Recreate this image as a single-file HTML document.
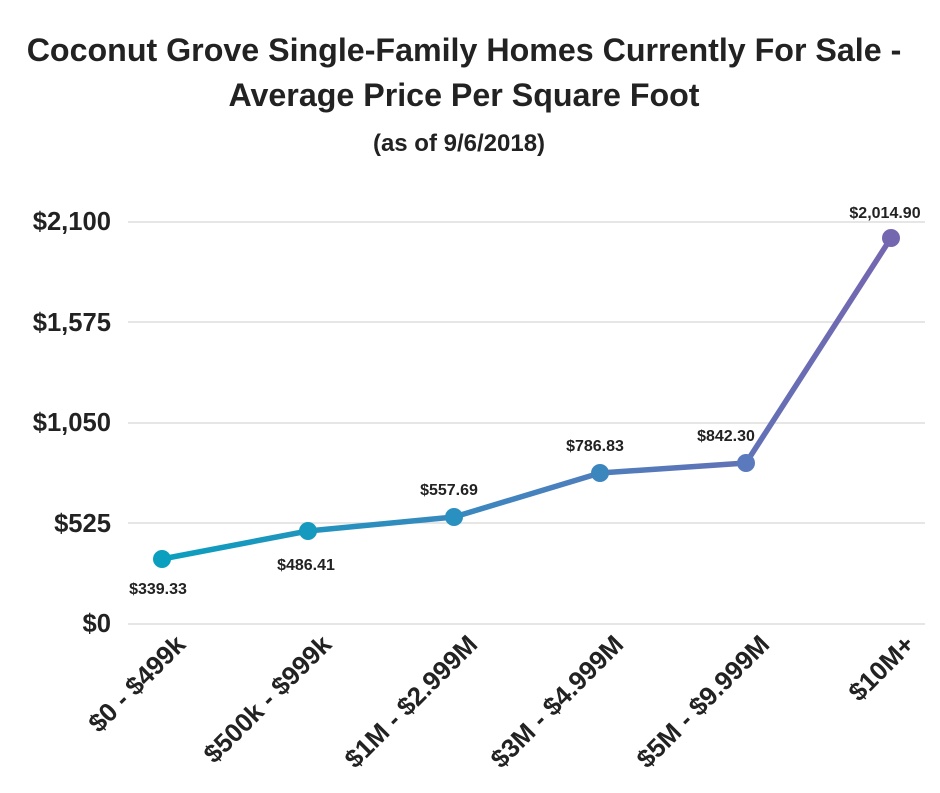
<!DOCTYPE html>
<html><head><meta charset="utf-8"><style>body{margin:0;background:#fff}</style></head>
<body>
<svg width="940" height="788" viewBox="0 0 940 788" xmlns="http://www.w3.org/2000/svg" font-family="Liberation Sans, sans-serif">
<defs><linearGradient id="g" x1="162" y1="0" x2="891" y2="0" gradientUnits="userSpaceOnUse">
<stop offset="0" stop-color="#0a9fbe"/><stop offset="0.55" stop-color="#4a80bd"/><stop offset="1" stop-color="#7566b0"/></linearGradient></defs>
<text x="464" y="61" text-anchor="middle" font-size="32.2" font-weight="bold" fill="#222">Coconut Grove Single-Family Homes Currently For Sale -</text>
<text x="464" y="106" text-anchor="middle" font-size="32.2" font-weight="bold" fill="#222">Average Price Per Square Foot</text>
<text x="459" y="151" text-anchor="middle" font-size="24" font-weight="bold" fill="#222">(as of 9/6/2018)</text>
<g stroke="#d6d6d6" stroke-width="1.3">
<line x1="128" y1="222" x2="925" y2="222"/><line x1="128" y1="322" x2="925" y2="322"/><line x1="128" y1="423" x2="925" y2="423"/><line x1="128" y1="523" x2="925" y2="523"/><line x1="128" y1="624" x2="925" y2="624"/></g>
<g font-size="25.6" font-weight="bold" fill="#222" text-anchor="end">
<text x="111" y="230">$2,100</text><text x="111" y="331">$1,575</text><text x="111" y="431">$1,050</text><text x="111" y="532">$525</text><text x="111" y="632">$0</text></g>
<polyline points="162,559 308,531 454,517 600,473 746,463 891,238" fill="none" stroke="url(#g)" stroke-width="5.5" stroke-linejoin="round"/>
<circle cx="162" cy="559" r="9" fill="#0a9fbe"/><circle cx="308" cy="531" r="9" fill="#1699be"/><circle cx="454" cy="517" r="9" fill="#2a90c0"/><circle cx="600" cy="473" r="9" fill="#3c86be"/><circle cx="746" cy="463" r="9" fill="#5a7abd"/><circle cx="891" cy="238" r="9" fill="#7566b0"/>
<g font-size="16" font-weight="bold" fill="#222" text-anchor="middle">
<text x="158" y="594">$339.33</text><text x="306" y="570">$486.41</text><text x="449" y="495">$557.69</text><text x="595" y="451">$786.83</text><text x="726" y="441">$842.30</text><text x="885" y="218">$2,014.90</text></g>
<g font-size="26" font-weight="bold" fill="#222" text-anchor="end">
<text transform="translate(187,646) rotate(-45)">$0 - $499k</text>
<text transform="translate(333,646) rotate(-45)">$500k - $999k</text>
<text transform="translate(479,646) rotate(-45)">$1M - $2.999M</text>
<text transform="translate(625,646) rotate(-45)">$3M - $4.999M</text>
<text transform="translate(771,646) rotate(-45)">$5M - $9.999M</text>
<text transform="translate(916,646) rotate(-45)">$10M+</text></g>
</svg>
</body></html>
